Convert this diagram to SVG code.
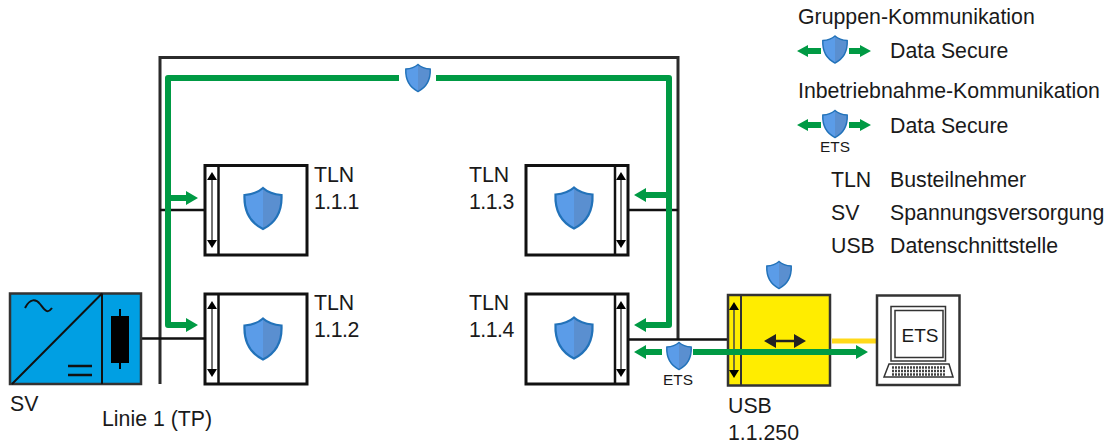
<svg xmlns="http://www.w3.org/2000/svg" xmlns:xlink="http://www.w3.org/1999/xlink" width="1111" height="445" viewBox="0 0 1111 445">
<style>
text{font-family:"Liberation Sans",Arial,sans-serif;font-size:21.3px;fill:#1a1a1a}
text.s{font-size:15.4px}
text.n{letter-spacing:-.5px}
.bus{fill:none;stroke:#2b2b2b;stroke-width:3}
.thin{fill:none;stroke:#111;stroke-width:2.5}
.box{fill:#fff;stroke:#111;stroke-width:3}
.g{fill:none;stroke:#009a44;stroke-width:6;stroke-linejoin:round}
.gh{fill:#009a44}
</style>
<defs>
<g id="shield">
<path d="M0-20.500C-5-16-12-14-18.500-13.500C-19-2-17 12 0 20.500C17 12 19-2 18.500-13.500C12-14 5-16 0-20.500Z" fill="#5b9ce8"/>
<path d="M0-20.500C5-16 12-14 18.500-13.500C19-2 17 12 0 20.500Z" fill="#5a8fd0"/>
<path d="M0-20.500C-5-16-12-14-18.500-13.500C-19-2-17 12 0 20.500C17 12 19-2 18.500-13.500C12-14 5-16 0-20.500Z" fill="none" stroke="#2272b9" stroke-width="2.200"/>
</g>
<g id="dbl">
<path d="M0-31V31" stroke="#444" stroke-width="1.500"/>
<path d="M0-38L-5-30H5ZM0 38L-5 30H5Z" fill="#000"/>
</g>
</defs>
<g id="connectors">
<path class="bus" d="M160 384V57.500H678V339"/>
<path class="thin" d="M141 338.500H205M160 210H205M628 210H678M628 339.500H728"/>
<path d="M832 341H876" fill="none" stroke="#ffd91a" stroke-width="5"/>
<path class="g" d="M399 78H168V325H186M168 198H186"/>
<path class="g" d="M436 78H669V325H644M669 195H644"/>
<path class="gh" d="M198 325L186 318V332ZM198 198L186 191V205ZM634 325L646 318V332ZM634 195L646 188V202Z"/>
</g>
<g id="sv">
<rect x="10" y="293.500" width="131" height="90.500" fill="#009fe3" stroke="#333" stroke-width="2.500"/>
<path d="M102 293.500V384M12 384L102 293.500" fill="none" stroke="#111" stroke-width="2"/>
<path d="M25 308C30 298 36 299 40 304S47 315 52 308" fill="none" stroke="#111" stroke-width="2"/>
<path d="M68 366H92M68 375H92" stroke="#111" stroke-width="2.500"/>
<path d="M120 309V369" stroke="#000" stroke-width="2"/>
<rect x="111" y="316" width="18" height="47" fill="#000"/>
</g>
<g id="tln111">
<rect class="box" x="205" y="165.500" width="102" height="89.500"/>
<path class="thin" d="M218.500 165.500V255"/>
<use href="#dbl" x="212" y="210"/>
<use href="#shield" x="263" y="208.500"/>
</g>
<g id="tln112">
<rect class="box" x="205" y="294" width="102" height="90"/>
<path class="thin" d="M218.500 294V384"/>
<use href="#dbl" x="212" y="339"/>
<use href="#shield" x="263" y="339"/>
</g>
<g id="tln113">
<rect class="box" x="526" y="165.500" width="102" height="89.500"/>
<path class="thin" d="M615 165.500V255"/>
<use href="#dbl" x="621" y="210"/>
<use href="#shield" x="574" y="208"/>
</g>
<g id="tln114">
<rect class="box" x="526" y="294" width="102" height="90"/>
<path class="thin" d="M615 294V384"/>
<use href="#dbl" x="621" y="339"/>
<use href="#shield" x="574" y="338"/>
</g>
<g id="usb">
<rect x="728" y="295" width="102" height="90.500" fill="#ffed00" stroke="#333" stroke-width="2.500"/>
<path d="M741 295V385.500" stroke="#333" stroke-width="2"/>
<use href="#dbl" x="734" y="340"/>
<path d="M770 341H800" stroke="#222" stroke-width="2.500"/>
<path d="M764 341L776 334V348ZM806 341L794 334V348Z" fill="#222"/>
</g>
<g id="ets">
<rect x="877" y="295.500" width="82.500" height="89.500" fill="#fff" stroke="#333" stroke-width="2.500"/>
<rect x="891" y="306.500" width="54.500" height="54.500" fill="#fff" stroke="#333" stroke-width="1.500"/>
<rect x="895" y="310.500" width="48" height="47" fill="#fff" stroke="#333" stroke-width="1.500"/>
<path d="M889 364H949L953 377H884Z" fill="#fff" stroke="#333" stroke-width="1.500"/>
<path d="M892 367.500H945M892 371H945M892 374.500H945" stroke="#444" stroke-width="2.500" stroke-dasharray="2 1"/>
<text x="901.500" y="342" style="font-size:19px">ETS</text>
</g>
<g id="flows">
<path class="g" d="M644 352H662M693 352H858"/>
<path class="gh" d="M634 352L646 345V359ZM868 352L856 345V359Z"/>
<use href="#shield" transform="translate(679 356) scale(.66)"/>
<use href="#shield" transform="translate(418 78) scale(.66)"/>
<use href="#shield" transform="translate(779 275) scale(.66)"/>
</g>
<g id="legend">
<path class="g" d="M806 51H821M849 51H862M806 125H821M849 125H862"/>
<path class="gh" d="M797 51L808 45V57ZM871 51L860 45V57ZM797 125L808 119V131ZM871 125L860 119V131Z"/>
<use href="#shield" transform="translate(835 49.500) scale(.66)"/>
<use href="#shield" transform="translate(835 124) scale(.66)"/>
</g>
<g id="labels">
<text x="798" y="23.500">Gruppen-Kommunikation</text>
<text x="890" y="57.700">Data Secure</text>
<text x="798" y="97.700">Inbetriebnahme-Kommunikation</text>
<text x="890" y="132.700">Data Secure</text>
<text class="s" x="820" y="151.500">ETS</text>
<text x="831" y="186.700">TLN</text><text x="890" y="186.700">Busteilnehmer</text>
<text x="831" y="219.700">SV</text><text x="890" y="219.700">Spannungsversorgung</text>
<text x="831" y="252.700">USB</text><text x="890" y="252.700">Datenschnittstelle</text>
<text x="314" y="181.700">TLN</text><text class="n" x="314" y="208.700">1.1.1</text>
<text x="314" y="309.700">TLN</text><text class="n" x="314" y="336.700">1.1.2</text>
<text x="469" y="181.700">TLN</text><text class="n" x="469" y="208.700">1.1.3</text>
<text x="469" y="309.700">TLN</text><text class="n" x="469" y="336.700">1.1.4</text>
<text x="10" y="410.700">SV</text>
<text x="102" y="425.700">Linie 1 (TP)</text>
<text x="728" y="412.700">USB</text><text x="728" y="439.700">1.1.250</text>
<text class="s" x="663" y="384.500">ETS</text>
</g>
</svg>
